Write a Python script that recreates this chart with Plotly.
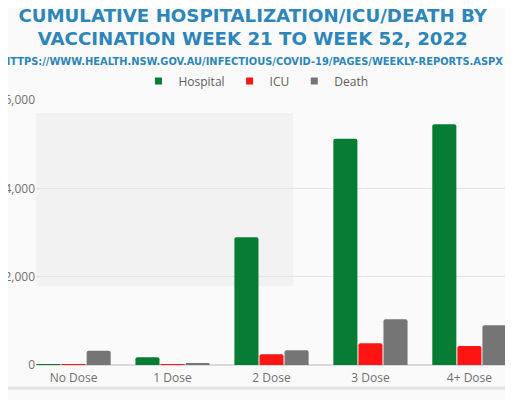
import plotly.graph_objects as go

# Cumulative counts, NSW weekly reports, week 21 - week 52 2022
DOSES    = ["No Dose", "1 Dose", "2 Dose", "3 Dose", "4+ Dose"]
HOSPITAL = [12, 175, 2890, 5120, 5450]
ICU      = [6, 12, 245, 490, 430]
DEATH    = [320, 40, 335, 1035, 900]

SERIES = [("Hospital", HOSPITAL, "#067C34"),
          ("ICU",      ICU,      "#FF1414"),
          ("Death",    DEATH,    "#757575")]

TITLE_COLOR = "#2C86BA"
TEXT_GREY   = "#605E5C"

fig = go.Figure()

for name, vals, color in SERIES:
    fig.add_trace(go.Bar(x=DOSES, y=vals, name=name, marker_color=color,
                         marker_line_width=0, marker_cornerradius=2, showlegend=False))
    # small square legend markers like the original
    fig.add_trace(go.Scatter(x=[None], y=[None], mode="markers", name=name,
                             marker=dict(symbol="square", size=7, color=color)))

# faint panel left behind in the screenshot
fig.add_shape(type="rect", xref="paper", yref="paper", x0=0, x1=0.546, y0=0.298, y1=0.951,
              fillcolor="#F2F2F2", line_width=0, layer="below")
# container edges
fig.add_shape(type="line", xref="paper", yref="paper", x0=-0.1, x1=1.003, y0=-0.088, y1=-0.088,
              line=dict(color="#E4E4E4", width=3))
fig.add_shape(type="line", xref="paper", yref="paper", x0=1.003, x1=1.003, y0=-0.088, y1=1.4,
              line=dict(color="#E4E4E4", width=1.5))

fig.add_annotation(text="<b>HTTPS://WWW.HEALTH.NSW.GOV.AU/INFECTIOUS/COVID-19/PAGES/WEEKLY-REPORTS.ASPX</b>",
                   xref="paper", yref="paper", x=0.46, y=1.147, xanchor="center", yanchor="middle",
                   showarrow=False, font=dict(family="DejaVu Sans", size=9.9, color=TITLE_COLOR))

fig.update_layout(
    title=dict(text="<b>CUMULATIVE HOSPITALIZATION/ICU/DEATH BY<br>VACCINATION WEEK 21 TO WEEK 52, 2022</b>",
               x=0.477, xref="container", xanchor="center", y=0.966, yanchor="middle",
               font=dict(family="DejaVu Sans", size=18.2, color=TITLE_COLOR)),
    width=513, height=400,
    margin=dict(l=28, r=14, t=92, b=43, autoexpand=False),
    barmode="group", bargap=0.24, bargroupgap=0.04,
    plot_bgcolor="#FAFAFA", paper_bgcolor="#FAFAFA",
    font=dict(family="Open Sans", size=11, color=TEXT_GREY),
    legend=dict(orientation="h", x=0.467, xanchor="center", xref="paper",
                y=1.072, yanchor="middle", font=dict(size=12, color=TEXT_GREY),
                itemwidth=30, bgcolor="rgba(0,0,0,0)"),
)
fig.update_xaxes(range=[-0.38, 4.38], showgrid=False, showline=False, ticks="",
                 tickfont=dict(size=12, color="#707070"), ticklabelstandoff=4, automargin=False)
fig.update_yaxes(range=[0, 6000], dtick=2000, tickformat=",", showgrid=True,
                 gridcolor="#E3E3E3", zeroline=True, zerolinecolor="#DADADA",
                 zerolinewidth=1.5, ticks="", tickfont=dict(size=12, color="#707070"),
                 automargin=False)

fig.write_html("out.html")
